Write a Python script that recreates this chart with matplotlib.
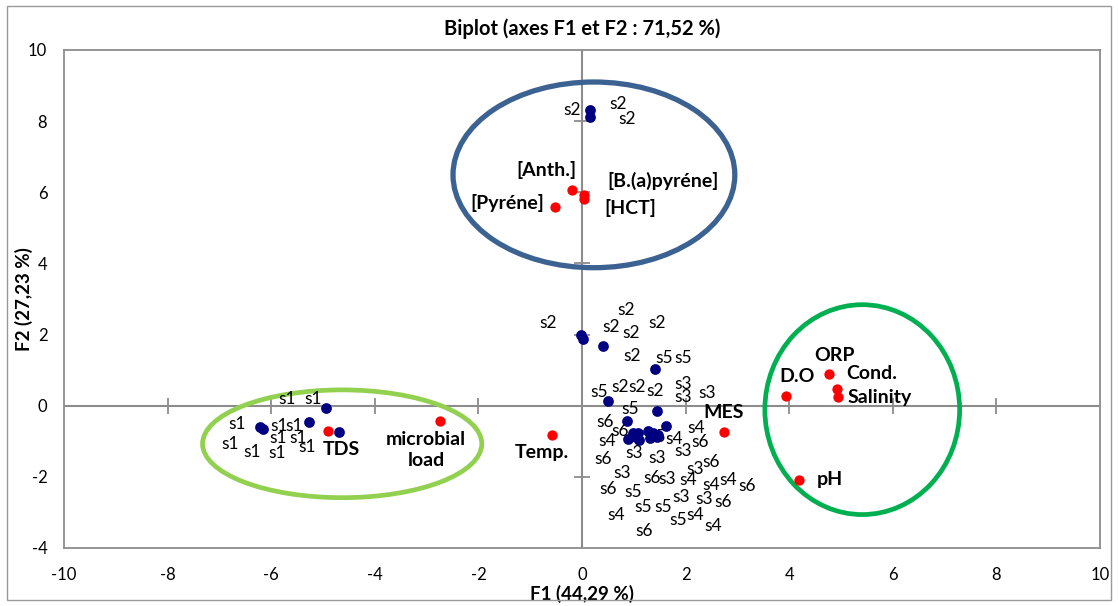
import matplotlib
matplotlib.use("Agg")
import matplotlib.pyplot as plt
from matplotlib.patches import Ellipse, Rectangle

plt.rcParams["font.family"] = ["Lato", "DejaVu Sans"]
plt.rcParams["axes.unicode_minus"] = False

NAVY = "#000080"
RED = "#ff0000"
GRAY = "#8c8c8c"

# observations (F1, F2 scores)
obs_x = [-4.94, -6.22, -6.16, -5.27, -4.69,
         0.15, 0.15, -0.02, 0.02, 0.41, 0.50, 1.41, 1.45, 0.87, 1.62,
         0.98, 1.08, 0.89, 1.10, 1.27, 1.37, 1.45, 1.31, 1.47, 1.04]
obs_y = [-0.06, -0.59, -0.65, -0.45, -0.73,
         8.31, 8.12, 1.99, 1.88, 1.69, 0.14, 1.04, -0.14, -0.42, -0.56,
         -0.76, -0.76, -0.93, -0.96, -0.70, -0.76, -0.87, -0.90, -0.81, -0.87]

# observation labels, as laid out on the plot
obs_labels = ["s2", "s2", "s2",
              "s2", "s2", "s2", "s2", "s2", "s2",
              "s5", "s5", "s5", "s2", "s2", "s2", "s3", "s3", "s3", "s5",
              "s6", "s6", "s4", "s5", "s4", "s4", "s6", "s3", "s3", "s3",
              "s6", "s6", "s3", "s3", "s6", "s3", "s4", "s4", "s4", "s6",
              "s6", "s5", "s3", "s3", "s6", "s5", "s5", "s4", "s5", "s4",
              "s4", "s6",
              "s1", "s1", "s1", "s1", "s1", "s1", "s1", "s1", "s1", "s1", "s1"]
lab_x = [-0.19, 0.69, 0.87,
         -0.66, 0.85, 0.56, 0.95, 1.45, 0.97,
         1.58, 1.95, 0.33, 0.73, 1.06, 1.41, 1.95, 2.41, 1.95, 0.93,
         0.44, 0.73, 0.48, 1.45, 1.78, 2.20, 2.28, 1.00, 1.45, 1.95,
         0.41, 2.49, 2.18, 0.77, 1.35, 1.64, 2.05, 2.49, 2.82, 3.19,
         0.50, 0.98, 1.91, 2.36, 2.72, 1.18, 1.56, 0.66, 1.85, 2.18,
         2.53, 1.20,
         -5.69, -5.19, -6.66, -5.85, -5.56, -5.87, -5.48, -6.80, -6.37, -5.89, -5.31]
lab_y = [8.31, 8.48, 8.06,
         2.33, 2.70, 2.22, 2.05, 2.33, 1.40,
         1.35, 1.35, 0.39, 0.53, 0.53, 0.42, 0.62, 0.37, 0.25, -0.08,
         -0.45, -0.70, -0.98, -0.87, -0.93, -0.62, -1.01, -1.32, -1.46, -1.26,
         -1.49, -1.57, -1.77, -1.88, -2.02, -2.05, -2.08, -2.22, -2.08, -2.25,
         -2.33, -2.42, -2.56, -2.61, -2.70, -2.84, -2.84, -3.06, -3.20, -3.06,
         -3.37, -3.51,
         0.20, 0.20, -0.51, -0.56, -0.56, -0.90, -0.90, -1.07, -1.29, -1.32, -1.15]

# variables (red) and where their names sit
var_names = ["[Anth.]", "[B.(a)pyréne]", "[HCT]", "[Pyréne]", "ORP", "Cond.",
             "Salinity", "D.O", "pH", "MES", "Temp.", "microbial\nload", "TDS"]
var_x = [-0.19, 0.04, 0.04, -0.52, 4.77, 4.92, 4.94, 3.94, 4.19, 2.74, -0.58, -2.74, -4.90]
var_y = [6.07, 5.93, 5.81, 5.59, 0.90, 0.48, 0.25, 0.28, -2.08, -0.73, -0.81, -0.42, -0.70]
var_lx = [-0.68, 1.56, 0.93, -1.45, 4.88, 5.60, 5.75, 4.15, 4.79, 2.74, -0.77, -3.01, -4.65]
var_ly = [6.63, 6.32, 5.56, 5.70, 1.40, 0.90, 0.22, 0.81, -2.08, -0.20, -1.32, -1.24, -1.24]

xticks = [-10, -8, -6, -4, -2, 0, 2, 4, 6, 8, 10]
yticks = [-4, -2, 0, 2, 4, 6, 8, 10]

fig = plt.figure(figsize=(11.18, 6.06), dpi=100)
ax = fig.add_axes([64 / 1118, 1 - 548 / 606, (1100 - 64) / 1118, (548 - 50) / 606])
ax.set_xlim(-10, 10)
ax.set_ylim(-4, 10)

# outer chart border
fig.patches.append(Rectangle((7 / 1118, 6 / 606), 1104 / 1118, 594 / 606,
                             transform=fig.transFigure, fill=False,
                             edgecolor="#9a9a9a", lw=1.0))

for s in ax.spines.values():
    s.set_color(GRAY)
    s.set_linewidth(1.3)

# zero lines with crossing tick marks
ax.axhline(0, color=GRAY, lw=1.5, zorder=1)
ax.axvline(0, color=GRAY, lw=1.5, zorder=1)
ax.plot(xticks[1:-1], [0] * len(xticks[1:-1]), ls="none", marker="|", ms=11,
        mew=1.3, color=GRAY, zorder=1)
ax.plot([0] * len(yticks[1:-1]), yticks[1:-1], ls="none", marker="_", ms=11,
        mew=1.3, color=GRAY, zorder=1)

ax.set_xticks(xticks)
ax.set_yticks(yticks)
ax.tick_params(length=0, labelsize=12)
ax.tick_params(axis="x", pad=14)
ax.tick_params(axis="y", pad=12)

# group ellipses
ax.add_patch(Ellipse((0.23, 6.49), 5.44, 5.22, fill=False, edgecolor="#3b6290", lw=3.8, zorder=2))
ax.add_patch(Ellipse((5.41, -0.11), 3.76, 5.9, fill=False, edgecolor="#00b050", lw=3.4, zorder=2))
ax.add_patch(Ellipse((-4.63, -1.07), 5.39, 3.03, fill=False, edgecolor="#92d050", lw=3.4, zorder=2))

ax.scatter(obs_x, obs_y, s=60, color=NAVY, zorder=4, linewidths=0)
ax.scatter(var_x, var_y, s=55, color=RED, zorder=5, linewidths=0)

for t, x, y in zip(obs_labels, lab_x, lab_y):
    ax.text(x, y, t, ha="center", va="center", fontsize=12.5, zorder=3)
for t, x, y in zip(var_names, var_lx, var_ly):
    ax.text(x, y, t, ha="center", va="center", fontsize=14, fontweight="bold",
            linespacing=1.3, zorder=6)

ax.set_title("Biplot (axes F1 et F2 : 71,52 %)", fontsize=14.5, fontweight="bold", pad=11)
ax.set_xlabel("F1 (44,29 %)", fontsize=13.5, fontweight="bold", labelpad=1)
ax.set_ylabel("F2 (27,23 %)", fontsize=13.5, fontweight="bold")
ax.yaxis.set_label_coords(-0.030, 0.5)

fig.savefig("out.png", dpi=100)
